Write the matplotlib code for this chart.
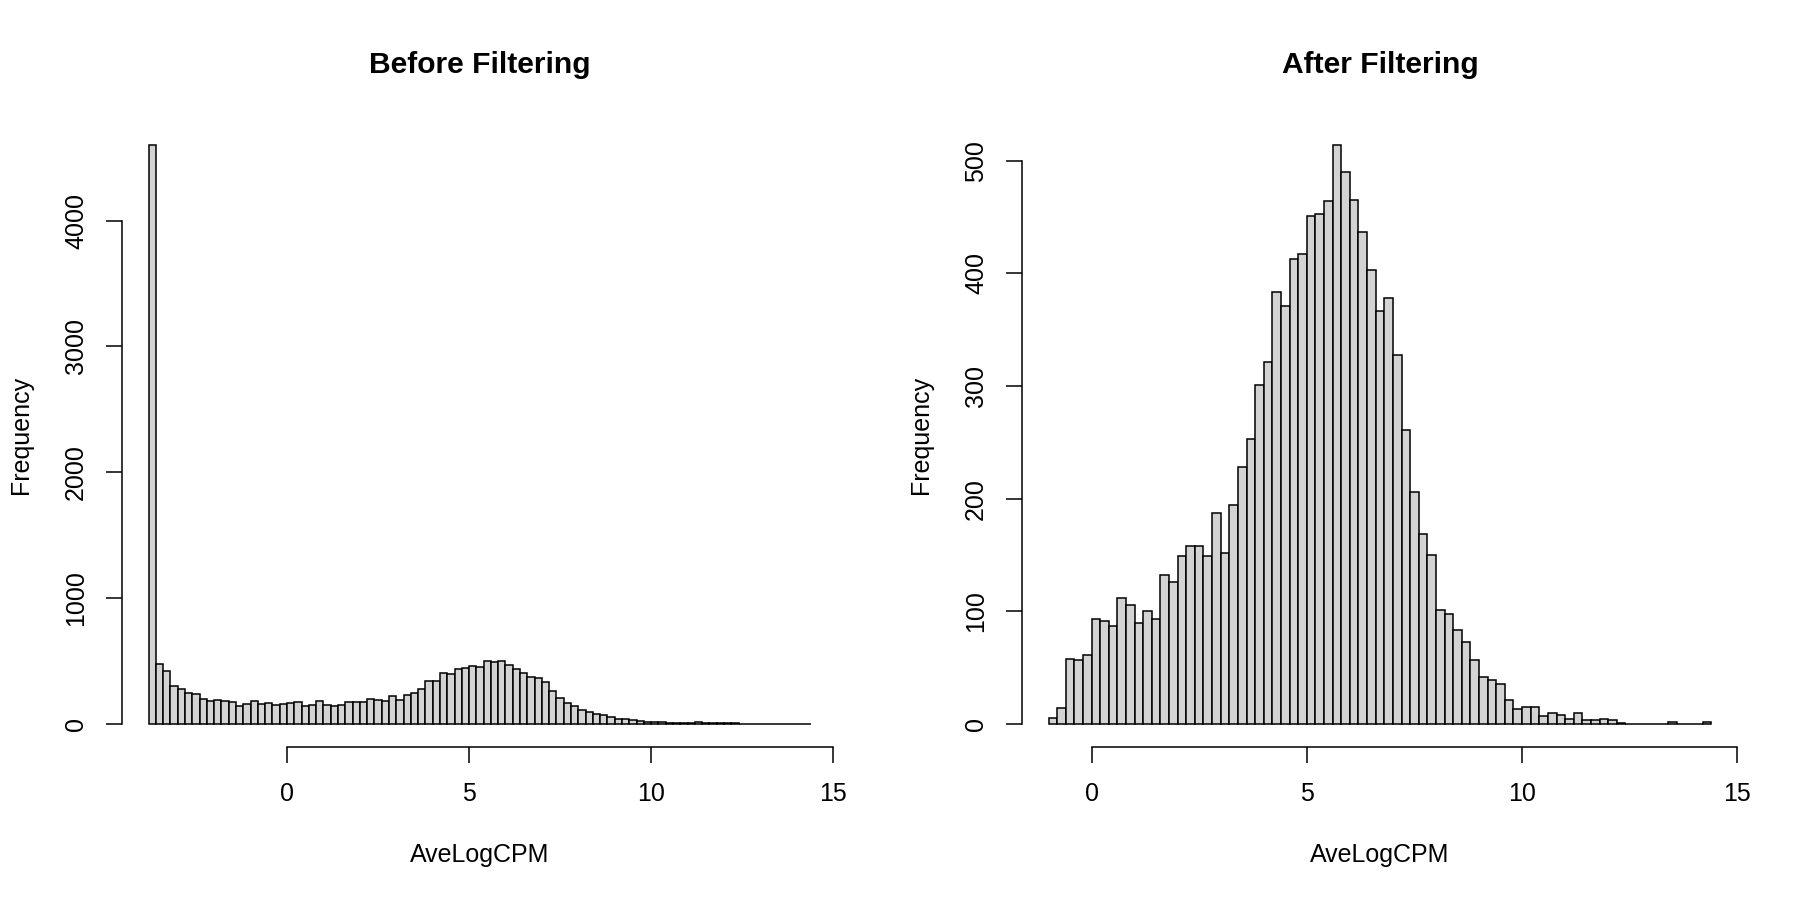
import matplotlib
matplotlib.use("Agg")
import matplotlib.pyplot as plt
import numpy as np

plt.rcParams["font.family"] = ["Liberation Sans", "DejaVu Sans"]

# histogram counts (bin width 0.2)
before_start = -3.8
before_counts = [
    4600, 477, 422, 302, 276, 247, 236, 199, 183, 191,
    178, 175, 141, 159, 183, 159, 167, 146, 159, 162,
    172, 141, 146, 183, 146, 138, 149, 175, 175, 175,
    199, 191, 180, 220, 188, 231, 249, 281, 337, 342,
    403, 393, 438, 446, 459, 451, 501, 493, 501, 470,
    438, 408, 369, 366, 334, 260, 207, 167, 138, 109,
    95, 82, 69, 56, 40, 40, 34, 24, 16, 16,
    13, 8, 8, 5, 5, 16, 3, 8, 8, 8,
    3, 2, 2, 2, 1, 1, 1, 1, 0, 1, 1,
]

after_start = -1.0
after_counts = [
    5, 14, 58, 57, 61, 93, 91, 87, 112, 106,
    90, 100, 93, 132, 126, 149, 158, 158, 149, 187,
    152, 194, 228, 253, 301, 321, 384, 371, 413, 417,
    451, 453, 464, 514, 490, 465, 437, 403, 367, 378,
    328, 261, 206, 169, 150, 101, 98, 83, 73, 57,
    42, 39, 35, 21, 13, 15, 15, 7, 10, 8,
    4, 10, 3, 3, 4, 3, 1, 0, 0, 0,
    0, 0, 2, 0, 0, 0, 2,
]

bin_width = 0.2
panel_titles = ["Before Filtering", "After Filtering"]
x_ticks = [0, 5, 10, 15]
before_yticks = [0, 1000, 2000, 3000, 4000]
after_yticks = [0, 100, 200, 300, 400, 500]

fig = plt.figure(figsize=(18, 9), dpi=100)
ax_left = fig.add_axes([122 / 1800, 153 / 900, 716 / 1800, 625 / 900])
ax_right = fig.add_axes([1022 / 1800, 153 / 900, 716 / 1800, 625 / 900])

panels = [
    (ax_left, before_start, before_counts, before_yticks, panel_titles[0]),
    (ax_right, after_start, after_counts, after_yticks, panel_titles[1]),
]

for ax, start, counts, yticks, title in panels:
    counts = np.array(counts)
    left_edges = start + bin_width * np.arange(len(counts))
    ax.bar(left_edges, counts, width=bin_width, align="edge",
           color="#D3D3D3", edgecolor="black", linewidth=1.1)

    # R-style axis limits: 4% padding on each side
    lo, hi = left_edges[0], left_edges[-1] + bin_width
    pad = 0.04 * (hi - lo)
    ax.set_xlim(lo - pad, hi + pad)
    ymax = counts.max()
    ax.set_ylim(-0.04 * ymax, 1.04 * ymax)

    for s in ["top", "right"]:
        ax.spines[s].set_visible(False)
    ax.spines["left"].set_bounds(yticks[0], yticks[-1])
    ax.spines["bottom"].set_bounds(x_ticks[0], x_ticks[-1])
    for s in ["left", "bottom"]:
        ax.spines[s].set_linewidth(1.1)

    ax.set_xticks(x_ticks)
    ax.set_yticks(yticks)
    ax.tick_params(axis="both", length=11.5, width=1.1, labelsize=18, direction="out")
    ax.tick_params(axis="x", pad=14)
    ax.tick_params(axis="y", pad=13, labelrotation=90)
    for lbl in ax.get_yticklabels():
        lbl.set_va("center")

    ax.set_xlabel("AveLogCPM", fontsize=18, labelpad=26)
    ax.set_ylabel("Frequency", fontsize=18, labelpad=22)
    ax.set_title(title, fontsize=21.6, fontweight="bold", pad=35)

fig.savefig("out.png", dpi=100)
